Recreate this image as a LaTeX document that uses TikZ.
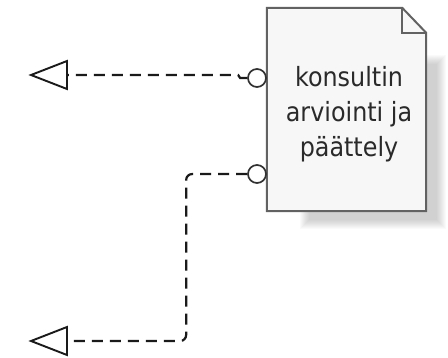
\documentclass[tikz,border=0pt]{standalone}
\usepackage{fontspec}
\setmainfont{DejaVu Sans}[FakeStretch=0.9]
\definecolor{docedge}{HTML}{626262}
\definecolor{docfill}{HTML}{F7F7F7}
\definecolor{ink}{HTML}{1A1A1A}
\definecolor{txt}{HTML}{2A2A2A}
\tikzset{
  conn/.style={draw=ink, line width=2.2pt, dash pattern=on 11pt off 7pt},
  port/.style={circle, draw=ink!90, line width=1.7pt, fill=white, minimum size=18pt, inner sep=0pt},
  tip/.style={draw=ink, line width=1.9pt, fill=white, line join=miter},
  docshape/.style={draw=docedge, line width=2pt, fill=docfill, line join=miter},
}
\begin{document}
\begin{tikzpicture}[x=1pt, y=-1pt]
\useasboundingbox (0,0) rectangle (448,358);

% soft shadow behind the document
\foreach \k in {0,...,9} {
  \fill[black, opacity=0.02] ({300+\k}, {55+\k}) rectangle ({446-\k}, {229-\k});
}

% document body with folded corner
\node[minimum width=159pt, minimum height=203pt, inner sep=0pt] (doc) at (346.5,109.5) {};
\draw[docshape] (doc.north west) -- ([xshift=-24pt]doc.north east)
  -- ([yshift=-25pt]doc.north east) -- (doc.south east) -- (doc.south west) -- cycle;
\draw[docedge, line width=2pt, line join=miter] ([xshift=-24pt]doc.north east)
  -- ([xshift=-24pt, yshift=-25pt]doc.north east) -- ([yshift=-25pt]doc.north east);

\node[text=txt, align=center, font=\fontsize{26.5}{35}\selectfont] (label) at (349,114)
  {konsultin\\arviointi ja\\päättely};

% ports on the left edge
\node[port] (c1) at (257,78) {};
\node[port] (c2) at (257,174) {};

% open arrow heads
\coordinate (t1) at (67,75);
\coordinate (t2) at (67,341);
\draw[tip] (t1) ++(0,-14) -- ++(-36,14) -- ++(36,14) -- cycle;
\draw[tip] (t2) ++(0,-14) -- ++(-36,14) -- ++(36,14) -- cycle;

% dashed connectors
\draw[conn] (c1.west) -- ++(-7,0) -- ++(-2,-3) -- (t1);
\draw[conn, rounded corners=6pt] (c2.west) -- ++(-61,0) |- (t2);
\end{tikzpicture}
\end{document}
